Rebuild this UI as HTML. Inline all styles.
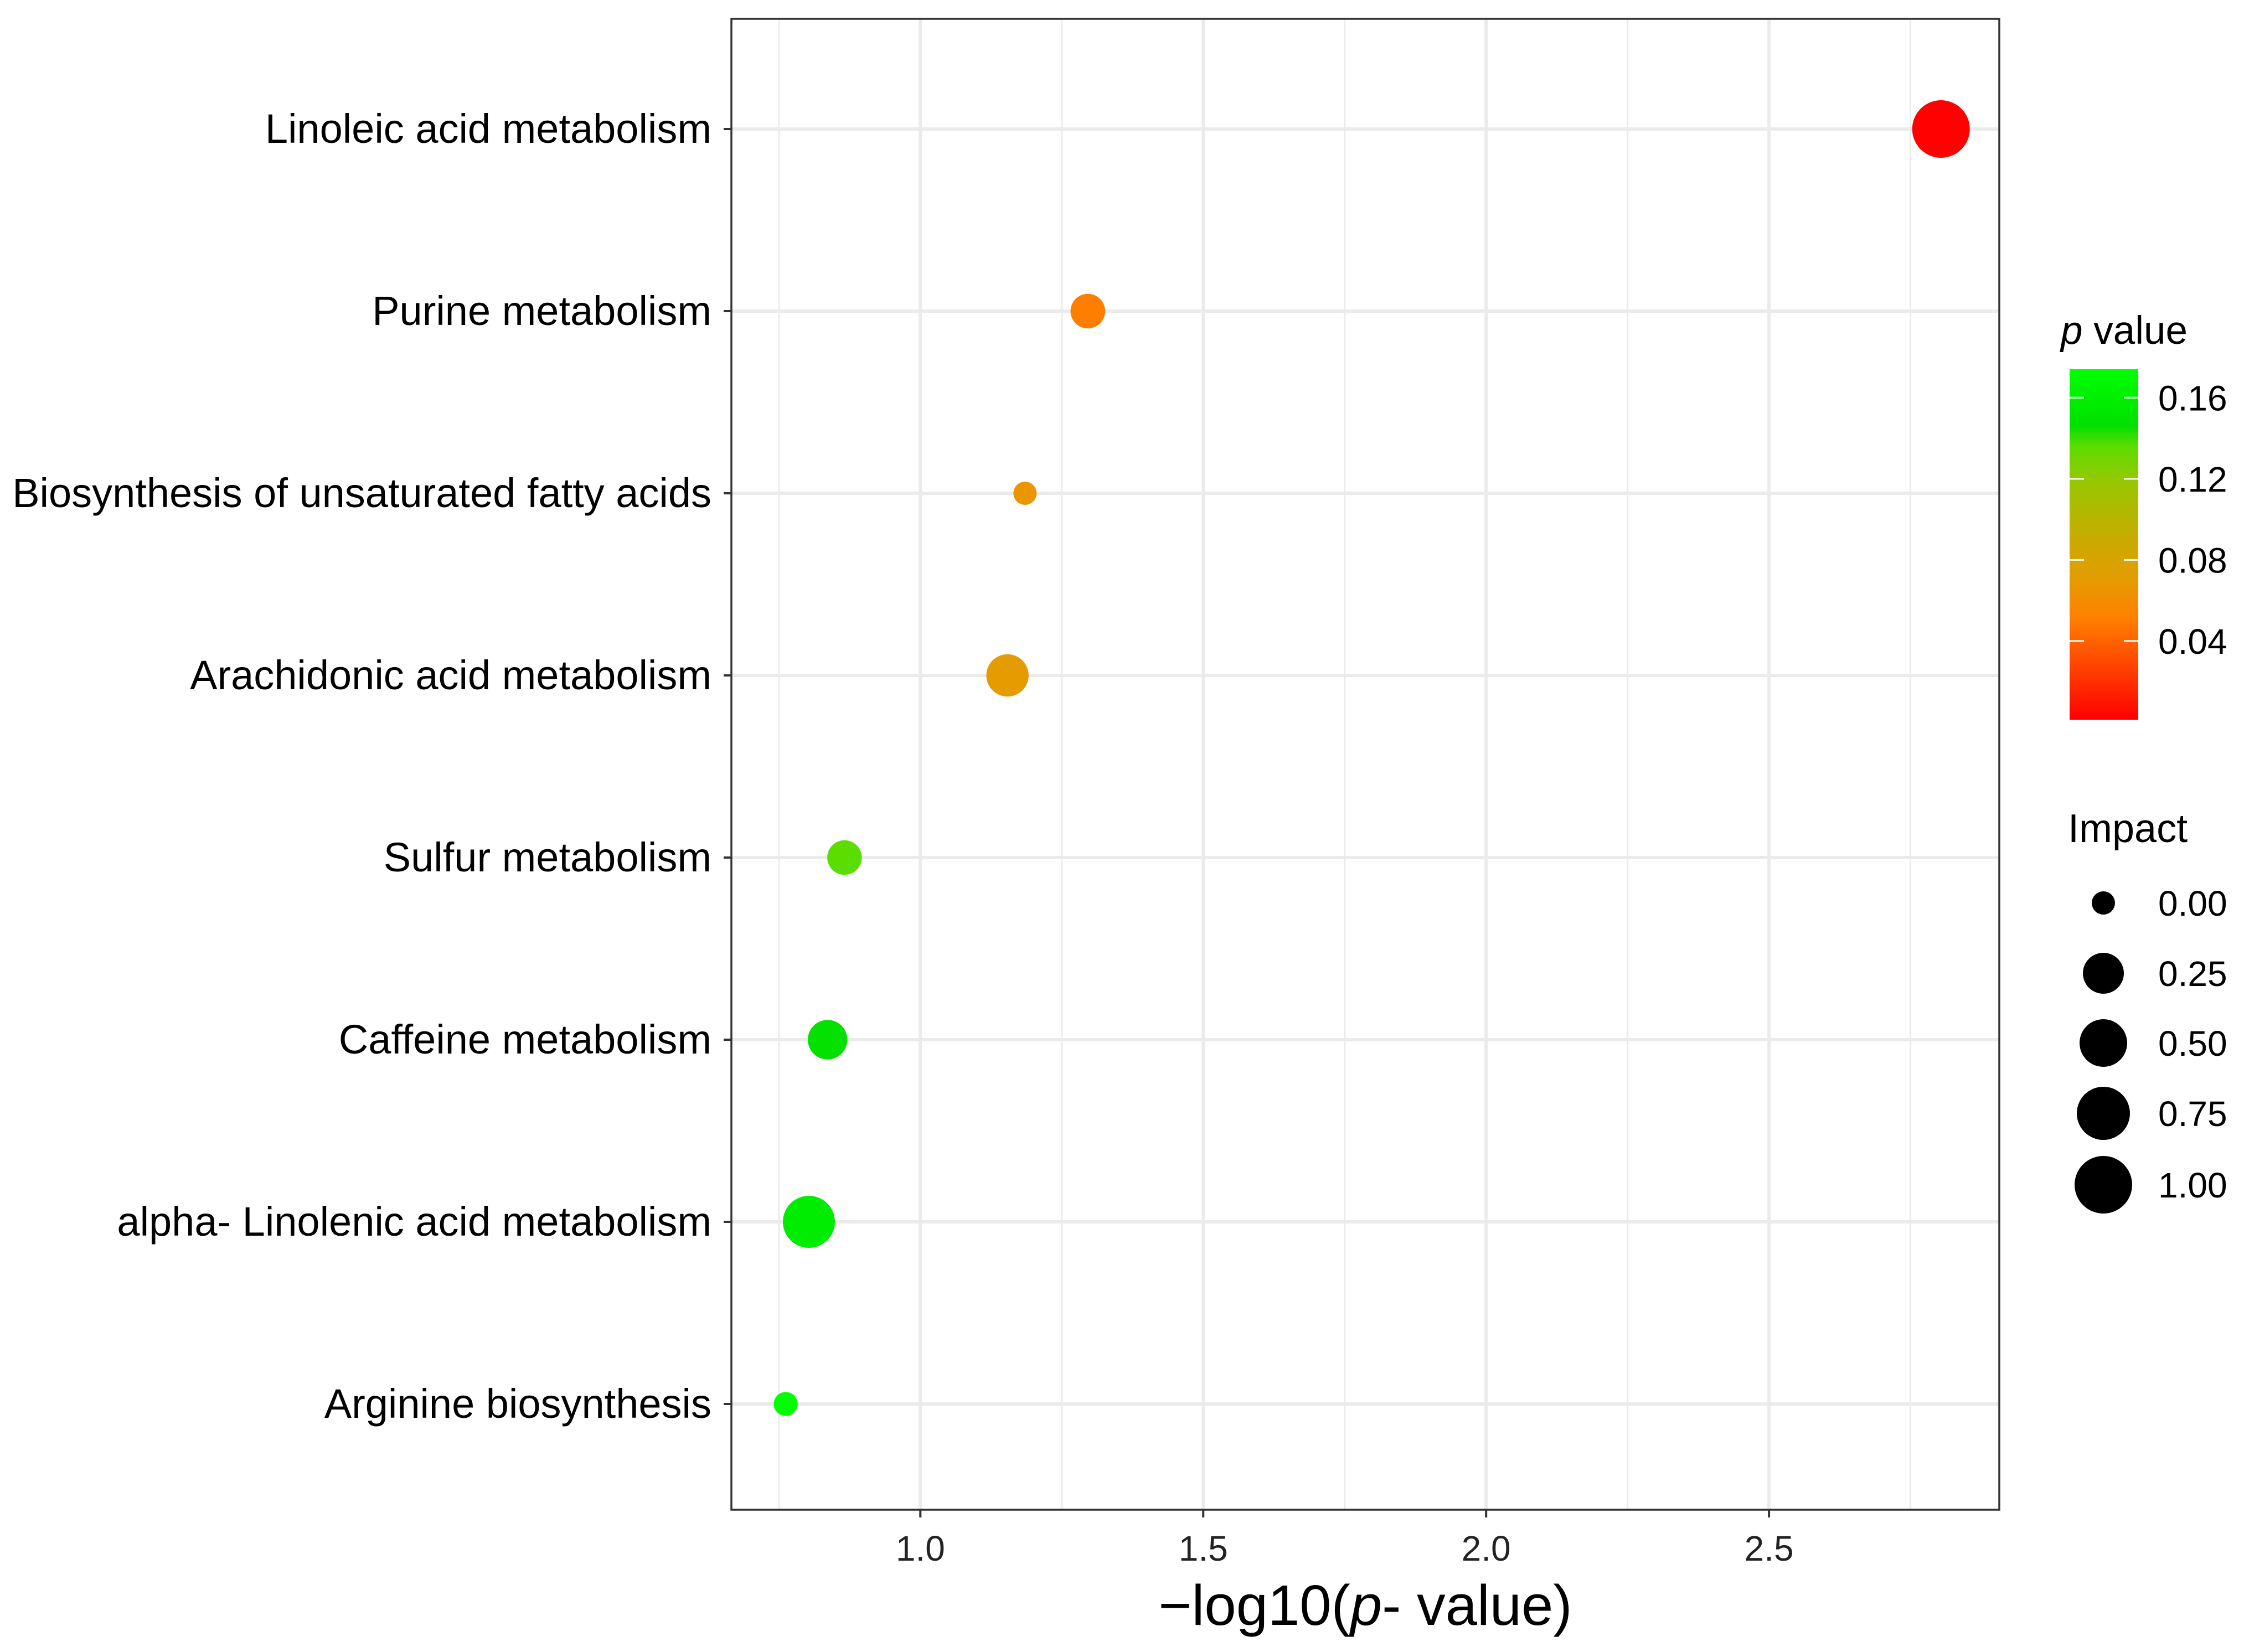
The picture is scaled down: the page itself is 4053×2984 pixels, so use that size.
<!DOCTYPE html>
<html><head><meta charset="utf-8"><style>
html,body{margin:0;padding:0;background:#fff;}
svg{display:block;font-family:"Liberation Sans",Arial,sans-serif;}
</style></head><body>
<svg id="chart" width="4053" height="2984" viewBox="0 0 4053 2984" xmlns="http://www.w3.org/2000/svg">
<defs>
<linearGradient id="pgrad" x1="0" y1="1" x2="0" y2="0">
<stop offset="0" stop-color="#ff0000"/>
<stop offset="0.29" stop-color="#ff8000"/>
<stop offset="0.40" stop-color="#e49c00"/>
<stop offset="0.52" stop-color="#c8ac00"/>
<stop offset="0.68" stop-color="#96c800"/>
<stop offset="0.78" stop-color="#5ddd00"/>
<stop offset="0.84" stop-color="#00e000"/>
<stop offset="1" stop-color="#00ff00"/>
</linearGradient>
</defs>
<g id="panel"></g>
<g id="legend"></g>
</svg>
<script>
const categories=["Linoleic acid metabolism","Purine metabolism","Biosynthesis of unsaturated fatty acids","Arachidonic acid metabolism","Sulfur metabolism","Caffeine metabolism","alpha- Linolenic acid metabolism","Arginine biosynthesis"];
const logP=[2.804,1.296,1.185,1.154,0.866,0.836,0.803,0.762];
const impact=[1.0,0.16,0.0,0.30,0.16,0.23,0.70,0.01];
const xTicks=[1.0,1.5,2.0,2.5];
const xTickLabels=["1.0","1.5","2.0","2.5"];
const colorTicks=[0.16,0.12,0.08,0.04];
const colorTickLabels=["0.16","0.12","0.08","0.04"];
const sizeBreaks=[0,0.25,0.5,0.75,1.0];
const sizeLabels=["0.00","0.25","0.50","0.75","1.00"];

const NS="http://www.w3.org/2000/svg";
const L=1321,R=3611,T=34,B=2727;
const xMin=0.666,xMax=2.907;
const xs=v=>L+(v-xMin)/(xMax-xMin)*(R-L);
const yTop=233,yStep=329.0;
const ys=i=>yTop+i*yStep;
const pMin=0.0012,pMax=0.174,cbTop=667,cbBot=1300;
const cy=p=>cbBot-(p-pMin)/(pMax-pMin)*(cbBot-cbTop);
const rArr=[21,37,43,48,52];
function rs(v){for(let i=0;i<4;i++){if(v<=sizeBreaks[i+1]){const t=(v-sizeBreaks[i])/(sizeBreaks[i+1]-sizeBreaks[i]);return rArr[i]+t*(rArr[i+1]-rArr[i]);}}return rArr[4];}
const stops=[[0,[255,0,0]],[0.29,[255,128,0]],[0.40,[228,156,0]],[0.52,[200,172,0]],[0.68,[150,200,0]],[0.78,[93,221,0]],[0.84,[0,224,0]],[1,[0,255,0]]];
function col(p){let t=(p-pMin)/(pMax-pMin);t=Math.max(0,Math.min(1,t));for(let i=0;i<stops.length-1;i++){const a=stops[i],b=stops[i+1];if(t<=b[0]){const u=(t-a[0])/(b[0]-a[0]);const c=a[1].map((v,k)=>Math.round(v+u*(b[1][k]-v)));return `rgb(${c.join(",")})`;}}return "rgb(0,255,0)";}
function mk(tag,attrs,parent,text){const e=document.createElementNS(NS,tag);for(const k in attrs)e.setAttribute(k,attrs[k]);if(text!==undefined)e.textContent=text;parent.appendChild(e);return e;}
const panel=document.getElementById('panel');
const bg=mk('rect',{x:L,y:T,width:R-L,height:B-T,fill:'#fff'},panel);


for(let v=0.75;v<=2.9;v+=0.5){const g=mk('line',{x1:xs(v),x2:xs(v),y1:T,y2:B,stroke:'#ebebeb','stroke-width':3},panel);

}
xTicks.forEach(v=>{const g=mk('line',{x1:xs(v),x2:xs(v),y1:T,y2:B,stroke:'#ebebeb','stroke-width':6},panel);

});
categories.forEach((c,i)=>{const g=mk('line',{x1:L,x2:R,y1:ys(i),y2:ys(i),stroke:'#ebebeb','stroke-width':6},panel);

});
categories.forEach((c,i)=>{const p=Math.pow(10,-logP[i]);const e=mk('circle',{cx:xs(logP[i]),cy:ys(i),r:rs(impact[i]),fill:col(p)},panel);

});
const border=mk('rect',{x:L,y:T,width:R-L,height:B-T,fill:'none',stroke:'#333','stroke-width':3.5},panel);


categories.forEach((c,i)=>{const t=mk('line',{x1:L-14,x2:L,y1:ys(i),y2:ys(i),stroke:'#333','stroke-width':4},panel);


const lb=mk('text',{x:L-36,y:ys(i)+25,'text-anchor':'end','font-size':74,fill:'#000'},panel,c);

});
xTicks.forEach((v,i)=>{const t=mk('line',{x1:xs(v),x2:xs(v),y1:B,y2:B+14,stroke:'#333','stroke-width':4},panel);


const lb=mk('text',{x:xs(v),y:B+92,'text-anchor':'middle','font-size':64,fill:'#222'},panel,xTickLabels[i]);

});
const xt=mk('text',{x:(L+R)/2,y:2935,'text-anchor':'middle','font-size':103,fill:'#000'},panel);


xt.innerHTML='−log10(<tspan font-style="italic">p</tspan>- value)';
const lg=document.getElementById('legend');
const ct=mk('text',{x:3722,y:621,'font-size':71,fill:'#000'},lg);


ct.innerHTML='<tspan font-style="italic">p</tspan> value';
const cb=mk('rect',{x:3738,y:cbTop,width:124,height:cbBot-cbTop,fill:'url(#pgrad)'},lg);


colorTicks.forEach((p,i)=>{const y=cy(p);
mk('line',{x1:3738,x2:3764,y1:y,y2:y,stroke:'#fff','stroke-width':3},lg);
mk('line',{x1:3836,x2:3862,y1:y,y2:y,stroke:'#fff','stroke-width':3},lg);
const lb=mk('text',{x:3898,y:y+23,'font-size':64,fill:'#000'},lg,colorTickLabels[i]);

});
const st=mk('text',{x:3735,y:1521,'font-size':72,fill:'#000'},lg,'Impact');


const sy=[1631,1758,1884,2011,2140];
sizeBreaks.forEach((v,i)=>{const c=mk('circle',{cx:3799,cy:sy[i],r:rs(v),fill:'#000'},lg);


const lb=mk('text',{x:3898,y:sy[i]+23,'font-size':64,fill:'#000'},lg,sizeLabels[i]);

});
</script>
</body></html>
